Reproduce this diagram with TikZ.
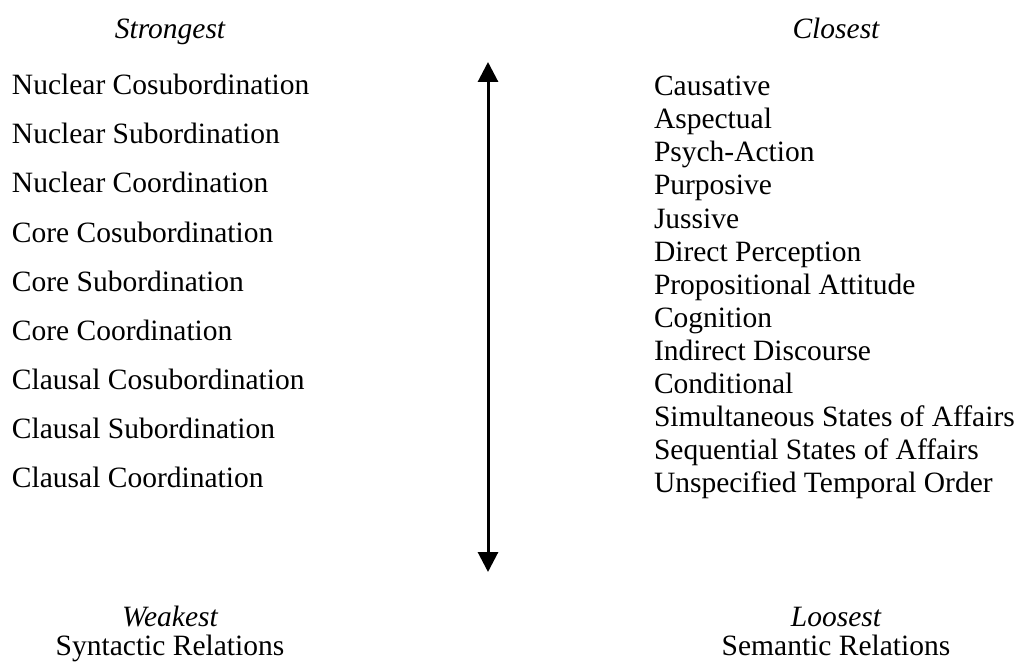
\documentclass[tikz,border=0pt]{standalone}
\usepackage{fontspec}
\setmainfont{Liberation Serif}
\usetikzlibrary{arrows.meta}
\begin{document}
\begin{tikzpicture}[x=1pt,y=-1pt,
  every node/.style={inner sep=0pt,outer sep=0pt,font=\fontsize{29.5}{33}\selectfont},
  item/.style={anchor=base west},
  heading/.style={anchor=base,font=\fontsize{29.5}{33}\selectfont\itshape},
  caption/.style={anchor=base},
  scale arrow/.style={line width=3pt,{Triangle[width=20pt,length=20pt]}-{Triangle[width=20pt,length=20pt]}}]
\useasboundingbox (0,0) rectangle (1018,666);
% syntactic column
\node[heading] (strong) at (170,39) {Strongest};
\node[item] (s1) at (12,95)  {Nuclear Cosubordination};
\node[item] (s2) at (12,144) {Nuclear Subordination};
\node[item] (s3) at (12,193) {Nuclear Coordination};
\node[item] (s4) at (12,242) {Core Cosubordination};
\node[item] (s5) at (12,291) {Core Subordination};
\node[item] (s6) at (12,340) {Core Coordination};
\node[item] (s7) at (12,389) {Clausal Cosubordination};
\node[item] (s8) at (12,438) {Clausal Subordination};
\node[item] (s9) at (12,487) {Clausal Coordination};
\node[heading] (weak) at (170,626) {Weakest};
\node[caption] (syn) at (170,655) {Syntactic Relations};
% semantic column
\node[heading] (close) at (836,39) {Closest};
\node[item] (r1)  at (654,96)  {Causative};
\node[item] (r2)  at (654,129) {Aspectual};
\node[item] (r3)  at (654,162) {Psych-Action};
\node[item] (r4)  at (654,195) {Purposive};
\node[item] (r5)  at (654,228) {Jussive};
\node[item] (r6)  at (654,261) {Direct Perception};
\node[item] (r7)  at (654,294) {Propositional Attitude};
\node[item] (r8)  at (654,327) {Cognition};
\node[item] (r9)  at (654,360) {Indirect Discourse};
\node[item] (r10) at (654,393) {Conditional};
\node[item] (r11) at (654,426) {Simultaneous States of Affairs};
\node[item] (r12) at (654,459) {Sequential States of Affairs};
\node[item] (r13) at (654,492) {Unspecified Temporal Order};
\node[heading] (loose) at (836,626) {Loosest};
\node[caption] (sem) at (836,655) {Semantic Relations};
% double-headed scale arrow
\coordinate (top) at (488,62);
\coordinate (bot) at (488,572);
\draw[scale arrow] (top) -- (bot);
\end{tikzpicture}
\end{document}
